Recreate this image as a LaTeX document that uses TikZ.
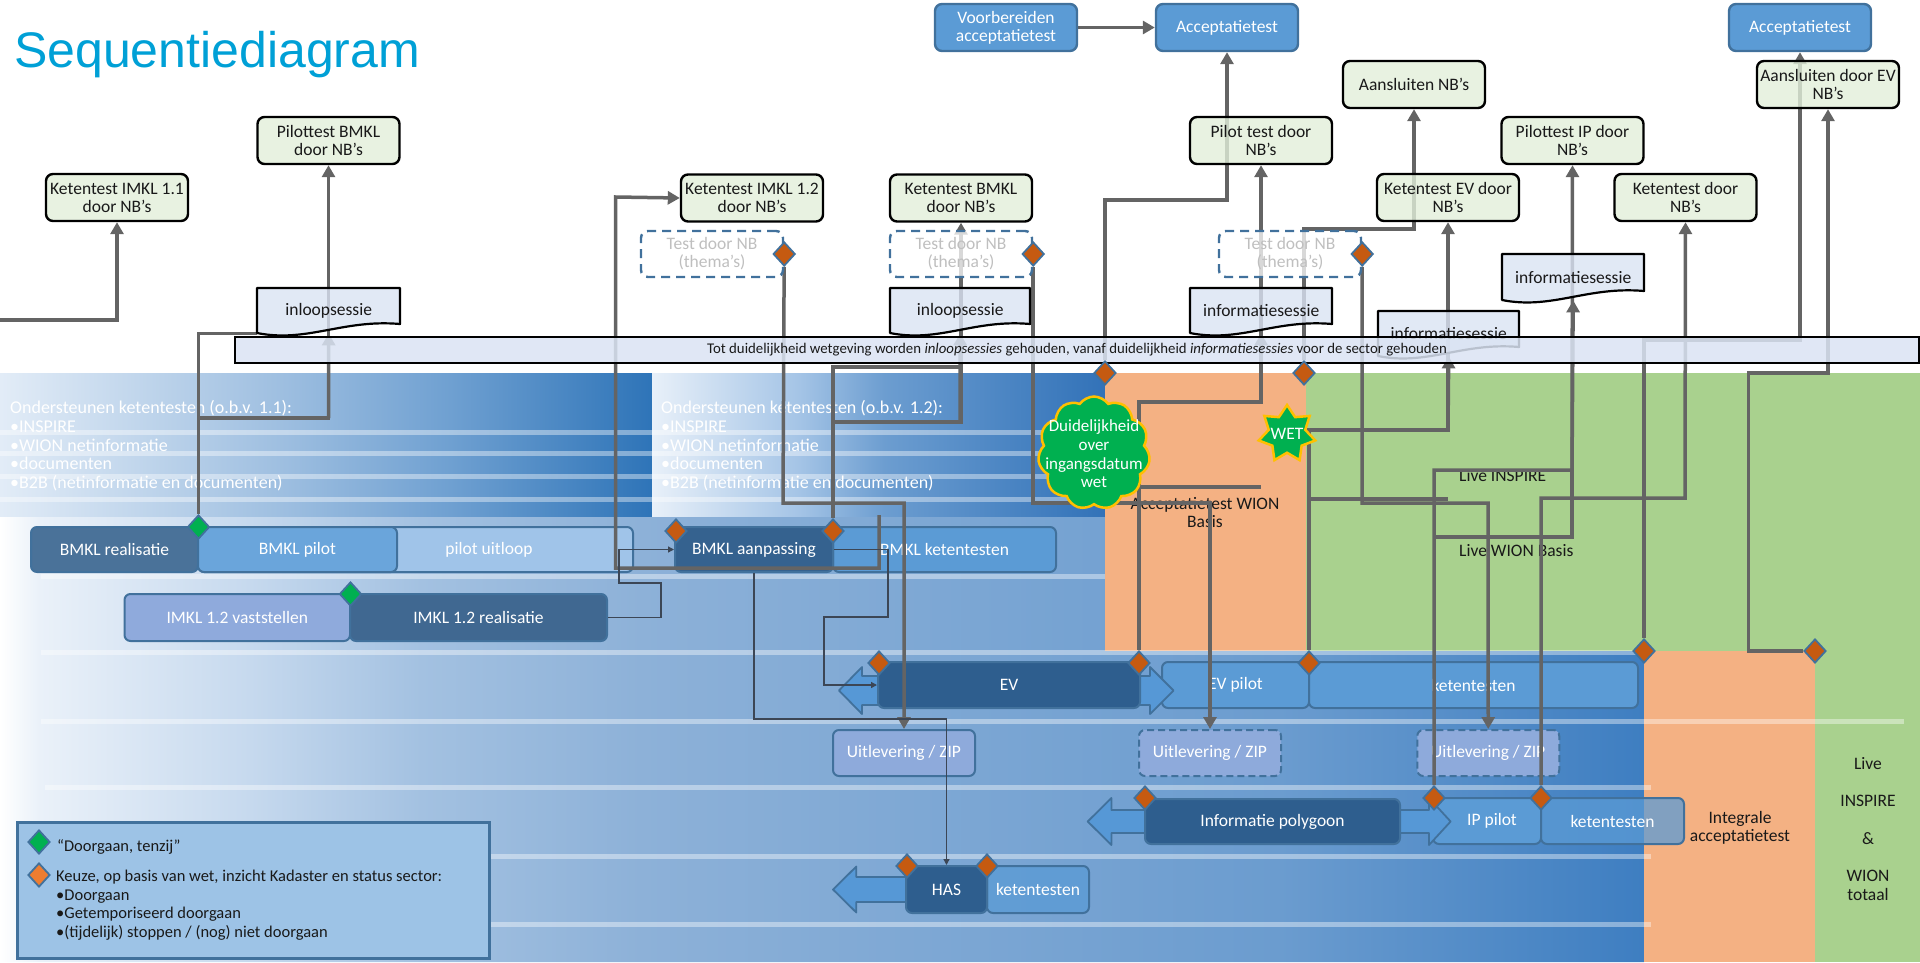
\documentclass[tikz,border=0pt]{standalone}
\usepackage{fontspec}
\setmainfont{Carlito}
\newfontfamily\titlefont{Liberation Sans}
\usetikzlibrary{arrows.meta,shapes.geometric,shapes.symbols}
\pgfdeclarelayer{back}
\pgfdeclarelayer{mid}
\pgfsetlayers{back,mid,main}

\definecolor{gfill}{RGB}{226,239,218}
\definecolor{bfill}{RGB}{91,155,213}
\definecolor{bord}{RGB}{65,113,156}
\definecolor{docfill}{RGB}{218,227,243}
\definecolor{lineg}{RGB}{100,100,100}
\definecolor{thing}{RGB}{60,70,85}
\definecolor{orng}{RGB}{244,177,131}
\definecolor{grn}{RGB}{169,209,142}
\definecolor{titleblue}{RGB}{0,160,214}
\definecolor{realis}{RGB}{74,114,153}
\definecolor{pilotc}{RGB}{106,165,219}
\definecolor{uitl}{RGB}{160,196,233}
\definecolor{vastst}{RGB}{143,170,220}
\definecolor{imklr}{RGB}{64,104,145}
\definecolor{aanp}{RGB}{53,98,143}
\definecolor{ketc}{RGB}{91,155,213}
\definecolor{evdark}{RGB}{46,94,142}
\definecolor{arrfill}{RGB}{86,152,214}
\definecolor{uitlev}{RGB}{142,170,219}
\definecolor{dorange}{RGB}{197,90,17}
\definecolor{lorange}{RGB}{237,125,49}
\definecolor{dgreen}{RGB}{0,176,80}
\definecolor{cloudyel}{RGB}{255,192,0}
\definecolor{dgray}{RGB}{191,191,191}
\definecolor{txtc}{RGB}{25,25,25}
\definecolor{legfill}{RGB}{157,195,230}
\definecolor{bA0}{RGB}{226,236,247}
\definecolor{bA1}{RGB}{157,190,224}
\definecolor{bA2}{RGB}{111,160,209}
\definecolor{bA3}{RGB}{46,116,184}
\definecolor{bB0}{RGB}{232,240,249}
\definecolor{bB1}{RGB}{164,196,230}
\definecolor{bB2}{RGB}{108,157,208}
\definecolor{bB3}{RGB}{75,133,195}
\definecolor{bB4}{RGB}{50,114,184}
\definecolor{lw1}{RGB}{234,241,249}
\definecolor{lw2}{RGB}{198,217,238}
\definecolor{lw3}{RGB}{163,193,225}
\definecolor{lw4}{RGB}{141,177,216}
\definecolor{lw5}{RGB}{107,156,207}
\definecolor{lw6}{RGB}{62,126,193}

\pgfdeclarehorizontalshading{bandA}{100bp}{color(0bp)=(bA0); color(25bp)=(bA0); color(46.9bp)=(bA1); color(59.5bp)=(bA2); color(75bp)=(bA3); color(100bp)=(bA3)}
\pgfdeclarehorizontalshading{bandB}{100bp}{color(0bp)=(bB0); color(25bp)=(bB0); color(41.3bp)=(bB1); color(50.7bp)=(bB2); color(64.2bp)=(bB3); color(75bp)=(bB4); color(100bp)=(bB4)}
\pgfdeclarehorizontalshading{lowbg}{100bp}{color(0bp)=(white); color(25bp)=(white); color(26.2bp)=(lw1); color(32.6bp)=(lw2); color(37.8bp)=(lw3); color(44.5bp)=(lw4); color(63.9bp)=(lw5); color(75bp)=(lw6); color(100bp)=(lw6)}

\newcommand\nf{\fontsize{17.5pt}{18pt}\selectfont}
\newcommand\bandf{\fontsize{18pt}{18pt}\selectfont}
\newcommand\mybarfont{\fontsize{14.8pt}{16pt}\selectfont}
\newcommand\lgf{\fontsize{16.5pt}{18pt}\selectfont}

\newcommand\docbox[6]{%
  \fill[docfill, fill opacity=0.8] (#2,#3) -- (#4,#3) -- (#4,#5-9) .. controls ({#2+0.6*(#4-#2)},#5-14) and ({#2+0.35*(#4-#2)},#5+10) .. (#2,#5) -- cycle;
  \draw[black, line width=2.2pt, line join=round] (#2,#3) -- (#4,#3) -- (#4,#5-9) .. controls ({#2+0.6*(#4-#2)},#5-14) and ({#2+0.35*(#4-#2)},#5+10) .. (#2,#5) -- cycle;
  \node[inner sep=0pt, minimum width={#4-#2}, minimum height={#5-#3}, anchor=north west, font=\nf, text=txtc] (#1) at (#2,#3) {#6};}

\begin{document}
\begin{tikzpicture}[x=1pt,y=-1pt,
  conn/.style={draw=lineg, line width=3.5pt},
  ctip/.style={-{Triangle[length=12pt,width=13pt]}},
  thinc/.style={draw=thing, line width=1.3pt},
  ttip/.style={-{Triangle[length=6pt,width=6pt]}},
  gbox/.style={draw=black, line width=2.4pt, fill=gfill, fill opacity=0.8, text opacity=1, rounded corners=7pt, minimum width=142pt, minimum height=47pt, align=center, font=\nf, inner sep=1pt, text=txtc},
  bbox/.style={draw=bord, line width=2.4pt, fill=bfill, rounded corners=7pt, minimum width=142pt, minimum height=47pt, align=center, font=\nf, text=white, inner sep=1pt},
  dbox/.style={draw=bord, line width=2.4pt, dash pattern=on 9pt off 6pt, fill=white, fill opacity=0.75, text opacity=1, rounded corners=7pt, minimum width=142pt, minimum height=46pt, align=center, font=\nf, text=dgray, inner sep=1pt},
  pbox/.style={draw=bord, line width=2pt, rounded corners=6pt, font=\nf, text=white, inner sep=0pt, minimum height=45pt},
  odia/.style={diamond, fill=dorange, draw=bord, line width=1.8pt, minimum width=22pt, minimum height=24pt, inner sep=0pt},
  gdia/.style={odia, fill=dgreen},
  stripe/.style={draw=white, line width=5pt, opacity=0.4},
  lbl/.style={font=\nf, text=txtc, inner sep=0pt},
  wlbl/.style={font=\nf, text=white, inner sep=0pt},
  arrshape/.style={fill=arrfill, draw=bord, line width=1.8pt, line join=round}]
\useasboundingbox (0,0) rectangle (1920,962);

\begin{pgfonlayer}{back}
% ---------- backgrounds ----------
\shade[shading=lowbg] (0,516) -- (1105,516) -- (1105,651) -- (1644,651) -- (1644,962) -- (0,962) -- cycle;
\shade[shading=bandA] (0,373) rectangle (652,516);
\shade[shading=bandB] (652,373) rectangle (1105,516);
\fill[orng] (1105,373) rectangle (1306,651);
\fill[grn] (1306,373) rectangle (1920,651);
\fill[orng] (1644,651) rectangle (1815,962);
\fill[grn] (1815,651) rectangle (1920,962);

% band texts
\node[wlbl, font=\bandf, anchor=base west] (a1) at (10,413.5) {Ondersteunen ketentesten (o.b.v. 1.1):};
\node[wlbl, font=\bandf, anchor=base west] (a2) at (10,432.5) {•INSPIRE};
\node[wlbl, font=\bandf, anchor=base west] (a3) at (10,451) {•WION netinformatie};
\node[wlbl, font=\bandf, anchor=base west] (a4) at (10,469) {•documenten};
\node[wlbl, font=\bandf, anchor=base west] (a5) at (10,488.5) {•B2B (netinformatie en documenten)};
\node[wlbl, font=\bandf, anchor=base west] (b1) at (661,413.5) {Ondersteunen ketentesten (o.b.v. 1.2):};
\node[wlbl, font=\bandf, anchor=base west] (b2) at (661,432.5) {•INSPIRE};
\node[wlbl, font=\bandf, anchor=base west] (b3) at (661,451) {•WION netinformatie};
\node[wlbl, font=\bandf, anchor=base west] (b4) at (661,469) {•documenten};
\node[wlbl, font=\bandf, anchor=base west] (b5) at (661,488.5) {•B2B (netinformatie en documenten)};

% lane stripes
\foreach \yy/\xa/\xb in {432/0/1105, 453/0/1105, 476/0/1105, 499/0/1105, 576/41/1105, 652/41/1644, 721/41/1904, 787/45/1651, 856/41/1651, 924/41/1651}
  \draw[stripe] (\xa,\yy) -- (\xb,\yy);

% region labels
\node[lbl, align=center] (accwion) at (1205,513) {Acceptatietest WION\\Basis};
\node[lbl, anchor=base west] (liveinsp) at (1459,481) {Live INSPIRE};
\node[lbl, anchor=base west] (livewion) at (1459,556) {Live WION Basis};
\node[lbl, align=center] (integr) at (1740,828) {Integrale\\acceptatietest};
\node[lbl, anchor=base] (lt1) at (1868,769) {Live};
\node[lbl, anchor=base] (lt2) at (1868,806) {INSPIRE};
\node[lbl, anchor=base] (lt3) at (1868,844) {\&};
\node[lbl, anchor=base] (lt4) at (1868,881) {WION};
\node[lbl, anchor=base] (lt5) at (1868,900) {totaal};

% ---------- process bars ----------
\node[pbox, fill=realis, minimum width=167pt] (bmklreal) at (114.5,549.5) {BMKL realisatie};
\node[pbox, fill=uitl, minimum width=435pt] (uitloop) at (415.5,549.5) {};
\node[wlbl] (uitlooptxt) at (489,549.5) {pilot uitloop};
\node[pbox, fill=pilotc, minimum width=199pt] (bmklpilot) at (297.5,549.5) {BMKL pilot};
\node[pbox, fill=vastst, minimum width=225.5pt, minimum height=47pt] (imkl12v) at (237.25,617.5) {IMKL 1.2 vaststellen};
\node[pbox, fill=imklr, minimum width=257pt, minimum height=47pt] (imkl12r) at (478.5,617.5) {IMKL 1.2 realisatie};
\node[pbox, fill=ketc, minimum width=223pt] (bmklket) at (944.5,549.5) {BMKL ketentesten};
\node[pbox, fill=aanp, minimum width=158pt] (bmklaanp) at (754,549.5) {BMKL aanpassing};

\node[pbox, fill=ketc, minimum width=147pt, minimum height=46pt] (evpilot) at (1235.5,685) {EV pilot};
\node[pbox, fill=ketc, minimum width=329pt, minimum height=46pt] (ketev) at (1473.5,685) {ketentesten};
\filldraw[arrshape] (839,690.5) -- (862,667) -- (862,676) -- (1150,676) -- (1150,667) -- (1173.5,690.5) -- (1150,714) -- (1150,705) -- (862,705) -- (862,714) -- cycle;
\node[pbox, fill=evdark, minimum width=262pt, minimum height=46pt] (evbody) at (1009,685) {EV};

\node[pbox, fill=uitlev, minimum width=142pt, minimum height=46pt] (u1) at (904,753) {Uitlevering / ZIP};
\node[pbox, fill=uitlev, dash pattern=on 7pt off 4pt, minimum width=142pt, minimum height=46pt] (u2) at (1210,753) {Uitlevering / ZIP};
\node[pbox, fill=uitlev, dash pattern=on 7pt off 4pt, minimum width=142pt, minimum height=46pt] (u3) at (1488.25,753) {Uitlevering / ZIP};

\node[pbox, fill=ketc, minimum width=108pt, minimum height=46pt] (ippilot) at (1487,821) {};
\node[pbox, fill=ketc, fill opacity=0.75, text opacity=1, minimum width=143pt, minimum height=46pt] (ketip) at (1612.5,821) {ketentesten};
\filldraw[arrshape] (1087.7,821.5) -- (1111.4,798) -- (1111.4,810) -- (1429,810) -- (1429,798) -- (1450.6,821.5) -- (1429,845) -- (1429,833) -- (1111.4,833) -- (1111.4,845) -- cycle;
\node[wlbl] (iptxt) at (1492,821) {IP pilot};
\node[pbox, fill=evdark, minimum width=255pt] (infpoly) at (1272.5,821.5) {Informatie polygoon};

\filldraw[arrshape] (833,889.5) -- (856.3,866.5) -- (856.3,877) -- (910,877) -- (910,902) -- (856.3,902) -- (856.3,912.5) -- cycle;
\node[pbox, fill=ketc, fill opacity=0.8, text opacity=1, minimum width=102pt, minimum height=47pt] (kethas) at (1038,889.5) {ketentesten};
\node[pbox, fill=evdark, minimum width=81pt, minimum height=47pt] (has) at (946.5,889.5) {HAS};
\end{pgfonlayer}

% ---------- top boxes ----------
\node[gbox] (kt11) at (117,197.5) {Ketentest IMKL 1.1\\door NB’s};
\node[gbox] (pbmkl) at (328.5,140.5) {Pilottest BMKL\\door NB’s};
\node[gbox] (kt12) at (752,198) {Ketentest IMKL 1.2\\door NB’s};
\node[gbox] (ktbmkl) at (961,198) {Ketentest BMKL\\door NB’s};
\node[gbox] (pilottest) at (1261,140.5) {Pilot test door\\NB’s};
\node[gbox] (aansl) at (1414,84.5) {Aansluiten NB’s};
\node[gbox] (ktev) at (1448,197.5) {Ketentest EV door\\NB’s};
\node[gbox] (pilotip) at (1572.5,140.5) {Pilottest IP door\\NB’s};
\node[gbox] (ktdoor) at (1685.5,197.5) {Ketentest door\\NB’s};
\node[gbox] (aanslev) at (1828,84.5) {Aansluiten door EV\\NB’s};

\node[bbox] (voorb) at (1006,27.5) {Voorbereiden\\acceptatietest};
\node[bbox] (acc1) at (1227,27.5) {Acceptatietest};
\node[bbox] (acc2) at (1800,27.5) {Acceptatietest};

\node[dbox] (t1) at (712,254) {Test door NB\\(thema’s)};
\node[dbox] (t2) at (961,254) {Test door NB\\(thema’s)};
\node[dbox] (t3) at (1290,254) {Test door NB\\(thema’s)};

\docbox{d1}{257}{288}{400}{333}{inloopsessie}
\docbox{d2}{890}{288}{1030}{333}{inloopsessie}
\docbox{d3}{1190}{288}{1332}{333}{informatiesessie}
\docbox{d4}{1378}{311}{1519}{356}{informatiesessie}
\docbox{d5}{1502}{254}{1644}{300}{informatiesessie}

% ---------- diamonds ----------
\node[gdia] (gd1) at (198.5,527) {};
\node[gdia] (gd2) at (350.5,594) {};
\node[odia] (odAL) at (676,531) {};
\node[odia] (odAR) at (833,531) {};
\node[odia] (odEVL) at (879,663) {};
\node[odia] (odEVR) at (1139,663) {};
\node[odia] (odK) at (1309,663) {};
\node[odia] (rd1) at (1644,651) {};
\node[odia] (rd2) at (1815,651) {};
\node[odia] (odP) at (1145,798) {};
\node[odia] (odIP) at (1434,798) {};
\node[odia] (odKIP) at (1541,798) {};
\node[odia] (odH1) at (907,866) {};
\node[odia] (odH2) at (987,866) {};
\node[odia] (t1d) at (t1.east) {};
\node[odia] (t2d) at (t2.east) {};
\node[odia] (t3d) at (t3.east) {};
\coordinate (lstart) at (0,320);

% ---------- connectors (middle layer) ----------
\begin{pgfonlayer}{mid}
\draw[conn,ctip] (lstart) -| (kt11.south);
\draw[conn] (gd1) |- (d1.south west);
\draw[conn,ctip] (198.5,418) -| (pbmkl.south);
\draw[conn,ctip] (328.5,418) -- (d1.south);
\draw[conn,ctip] (879,515) |- (615.7,568) -- (615.7,197) -- (kt12.west);
\draw[conn,ctip] (t1d) -- (783,503) -| (u1.north);
\draw[conn] (odAR) |- (960,367);
\draw[conn,ctip] (833,422) -| (ktbmkl.south);
\draw[conn,ctip] (960,422) -- (d2.south);
\draw[conn,ctip] (t2d) |- (1210,503) -- (u2.north);
\draw[conn,ctip] (odEVR) |- (1261,402) -- (pilottest.south);
\draw[conn,ctip] (1261,402) -- (d3.south);
\draw[conn] (1139,487) -- (1261,487);
\draw[conn,ctip] (odK) |- (1448,430) -- (ktev.south);
\draw[conn,ctip] (1448,430) -- (d4.south);
\draw[conn] (1309,499) -- (1448,499);
\draw[conn,ctip] (t3d) |- (1488,503) -- (u3.north);
\draw[conn,ctip] (odIP) |- (1572,470) -- (pilotip.south);
\draw[conn,ctip] (1572,470) -- (d5.south);
\draw[conn] (1434,537) -| (1572,470);
\draw[conn,ctip] (odKIP) |- (1685,498) -- (ktdoor.south);
\draw[conn,ctip] (rd2) -- (1748.6,651) |- (1828,373) -- (aanslev.south);
\draw[conn,ctip] (rd1) |- (1800,340) -- (acc2.south);
\draw[conn,ctip] (voorb) -- (acc1);
\draw[thinc,ttip] (imkl12r.east) -- (661,617.5) -- (661,583) -- (619,583) -- (619,549.5) -- (bmklaanp.west);
\draw[thinc,ttip] (bmklaanp.east) -- (888,549.5) -- (888,617) -- (824,617) -- (824,685) -- (evbody.west);
\draw[thinc,ttip] (bmklaanp.south) |- (946.5,719) -- (has.north);
\end{pgfonlayer}

% ---------- banner ----------
\node[draw=black, line width=2.4pt, fill=docfill, fill opacity=0.85, text opacity=1, minimum width=1684pt, minimum height=26pt, inner sep=0pt, font=\mybarfont, text=txtc] (bar) at (1077,350) {Tot duidelijkheid wetgeving worden \textit{inloopsessies} gehouden, vanaf duidelijkheid \textit{informatiesessies} voor de sector gehouden};
\node[odia] (bdL) at (1105,373) {};
\node[odia] (bdR) at (1304,373) {};
\begin{pgfonlayer}{mid}
\draw[conn,ctip] (bdL) |- (1227,200) -- (acc1.south);
\draw[conn,ctip] (bdR) |- (1414,229) -- (aansl.south);
\end{pgfonlayer}

% ---------- cloud and star ----------
\node[cloud, cloud puffs=11, cloud puff arc=110, aspect=1, fill=dgreen, draw=cloudyel, line width=2.5pt, minimum width=112pt, minimum height=113pt, inner sep=0pt] (cloud) at (1094,453) {};
\node[wlbl, align=center, font=\fontsize{17pt}{18.7pt}\selectfont] (cloudtxt) at (1094,454) {Duidelijkheid\\over\\ingangsdatum\\wet};
\node[star, star points=7, star point ratio=1.55, fill=dgreen, draw=cloudyel, line width=2.5pt, minimum size=58pt, inner sep=0pt] (star) at (1287,434) {};
\node[wlbl] (wet) at (1287,434) {WET};

% ---------- legend ----------
\node[draw=bord, line width=2.5pt, fill=legfill, minimum width=472pt, minimum height=136pt, anchor=north west, inner sep=0pt] (legend) at (16,821) {};
\node[gdia] (lg1) at (39,842) {};
\node[odia, fill=lorange] (lg2) at (39,875) {};
\node[lbl, anchor=base west, font=\lgf] (lgt1) at (57,851) {“Doorgaan, tenzij”};
\node[lbl, anchor=base west, font=\lgf] (lgt2) at (56,881) {Keuze, op basis van wet, inzicht Kadaster en status sector:};
\node[lbl, anchor=base west, font=\lgf] (lgt3) at (56,900) {•Doorgaan};
\node[lbl, anchor=base west, font=\lgf] (lgt4) at (56,918) {•Getemporiseerd doorgaan};
\node[lbl, anchor=base west, font=\lgf] (lgt5) at (56,937) {•(tijdelijk) stoppen / (nog) niet doorgaan};

% ---------- title ----------
\node[anchor=base west, inner sep=0pt, font=\titlefont\fontsize{50pt}{50pt}\selectfont, text=titleblue] (title) at (14,67) {Sequentiediagram};
\end{tikzpicture}
\end{document}
